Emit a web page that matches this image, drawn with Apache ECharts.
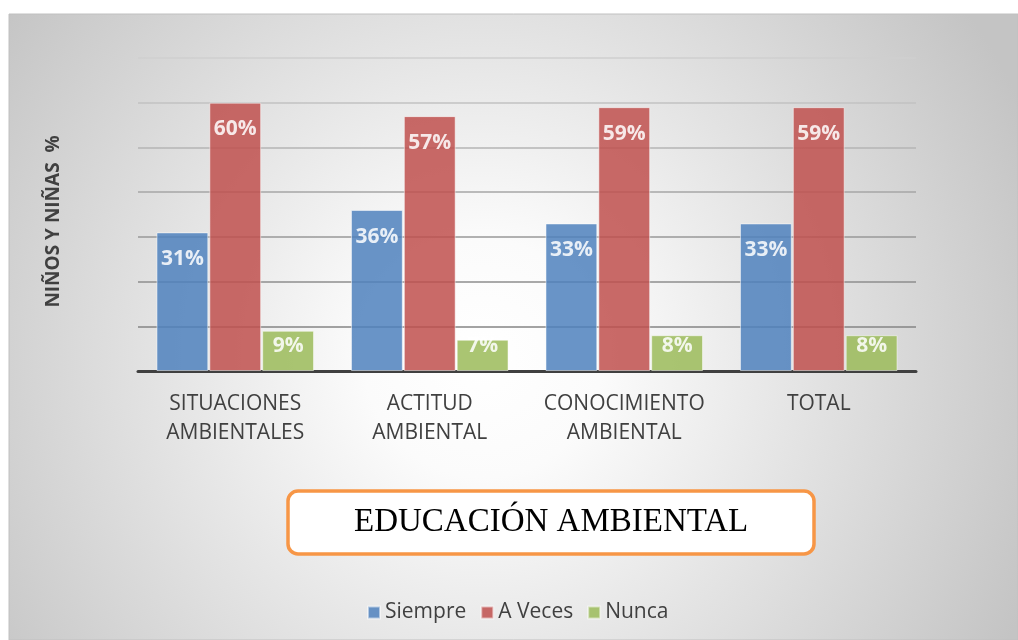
<!DOCTYPE html>
<html>
<head>
<meta charset="utf-8">
<script src="https://cdn.jsdelivr.net/npm/echarts@6/dist/echarts.min.js"></script>
<style>
  html, body { margin: 0; padding: 0; background: #fff; }
  #main { width: 1018px; height: 640px; }
</style>
</head>
<body>
<div id="main"></div>
<script>
var categories = ['SITUACIONES\nAMBIENTALES', 'ACTITUD\nAMBIENTAL', 'CONOCIMIENTO\nAMBIENTAL', 'TOTAL'];
var siempre = [31, 36, 33, 33];
var aVeces = [60, 57, 59, 59];
var nunca = [9, 7, 8, 8];
var seriesNames = ['Siempre', 'A Veces', 'Nunca'];
var colors = ['#4f81bd', '#c0504d', '#9bbb59'];

// labels sit at the top of the bar, short bars get them near the base
function withLabels(values) {
    return values.map(function (v) {
        if (v < 15) {
            return { value: v, label: { position: 'insideBottom', distance: 14 } };
        }
        return { value: v, label: { position: 'insideTop', distance: 16 } };
    });
}

function makeSeries(name, values, color) {
    return {
        name: name,
        type: 'bar',
        barGap: '2%',
        barCategoryGap: '19%',
        itemStyle: { color: color, opacity: 0.85, borderColor: 'rgba(255,255,255,0.6)', borderWidth: 1 },
        label: {
            show: true,
            formatter: '{c}%',
            color: '#fff',
            fontFamily: 'Open Sans',
            fontWeight: 'bold',
            fontSize: 21
        },
        data: withLabels(values)
    };
}

var myChart = echarts.init(document.getElementById('main'));

var option = {
    backgroundColor: '#fff',
    animation: false,
    graphic: [{
        type: 'rect',
        z: -10,
        shape: { x: 9, y: 14, width: 1009, height: 626 },
        style: {
            fill: new echarts.graphic.RadialGradient(0.47, 0.55, 0.95, [
                { offset: 0, color: '#ffffff' },
                { offset: 0.2, color: '#fbfbfb' },
                { offset: 1, color: '#c4c4c4' }
            ]),
            stroke: '#c0c0c0',
            lineWidth: 1
        }
    }],
    title: {
        text: 'EDUCACIÓN AMBIENTAL',
        left: 288,
        top: 491,
        padding: [15, 66],
        backgroundColor: '#fff',
        borderColor: '#f79646',
        borderWidth: 3.5,
        borderRadius: 10,
        textStyle: {
            fontFamily: 'Liberation Serif',
            fontWeight: 'normal',
            fontSize: 33,
            color: '#000'
        }
    },
    legend: {
        data: seriesNames,
        left: 362,
        top: 597,
        icon: 'rect',
        itemWidth: 12,
        itemHeight: 12,
        itemGap: 14,
        textStyle: { fontFamily: 'Open Sans', fontSize: 21, color: '#404040' }
    },
    grid: { left: 138, right: 102, top: 58, bottom: 269 },
    xAxis: {
        type: 'category',
        data: categories,
        axisTick: { show: false },
        axisLine: { lineStyle: { color: '#404040', width: 3 } },
        axisLabel: {
            fontFamily: 'Open Sans',
            fontSize: 21,
            lineHeight: 29,
            color: '#404040',
            margin: 19,
            interval: 0
        }
    },
    yAxis: {
        type: 'value',
        min: 0,
        max: 70,
        interval: 10,
        name: 'NIÑOS Y NIÑAS  %',
        nameLocation: 'middle',
        nameGap: 75,
        nameTextStyle: {
            fontFamily: 'Open Sans',
            fontWeight: 'bold',
            fontSize: 19,
            color: '#404040',
            padding: [0, 14, 0, 0]
        },
        axisLabel: { show: false },
        axisTick: { show: false },
        axisLine: { show: false },
        splitLine: {
            lineStyle: {
                width: 1.5,
                color: ['#7f7f7f', '#858585', '#8e8e8e', '#999999', '#a6a6a6', '#b4b4b4', '#c2c2c2', '#cfcfcf']
            }
        }
    },
    series: [
        makeSeries(seriesNames[0], siempre, colors[0]),
        makeSeries(seriesNames[1], aVeces, colors[1]),
        makeSeries(seriesNames[2], nunca, colors[2])
    ]
};

myChart.setOption(option);
window.onresize = myChart.resize;
</script>
</body>
</html>
